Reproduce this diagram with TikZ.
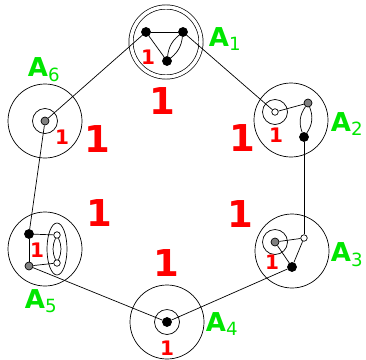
\documentclass[tikz,border=0pt]{standalone}
\usepackage{fontspec}
\setmainfont{DejaVu Sans}
\usepackage{tikz}
\definecolor{lblgreen}{RGB}{0,230,0}

\begin{document}
\begin{tikzpicture}[
    x=1pt, y=-1pt,
    line width=0.7pt,
    cluster/.style={circle, draw, minimum size=74pt, inner sep=0pt},
    shell/.style={circle, draw, minimum size=25pt, inner sep=0pt},
    bdot/.style={circle, draw, fill=black, minimum size=9pt, inner sep=0pt},
    gdot/.style={circle, draw, fill=gray, minimum size=8pt, inner sep=0pt},
    wdot/.style={circle, draw, fill=white, minimum size=6.5pt, inner sep=0pt},
    weight/.style={text=red, inner sep=0pt, font=\bfseries\fontsize{37}{37}\selectfont},
    mult/.style={text=red, inner sep=0pt, font=\bfseries\fontsize{20}{20}\selectfont},
    clname/.style={text=lblgreen, inner sep=0pt, font=\bfseries\fontsize{26}{26}\selectfont}
]
\useasboundingbox (0,0) rectangle (366,359);

% Cluster boundaries
\node[cluster, double, double distance=3.5pt, minimum size=70pt] (A1) at (166,42) {};
\node[cluster] (A2) at (291,120) {};
\node[cluster] (A3) at (292,251) {};
\node[cluster] (A4) at (167,322) {};
\node[cluster] (A5) at (45,249) {};
\node[cluster] (A6) at (45,121) {};

% A1: triangle with a double edge
\node[bdot] (a1l) at (146,32) {};
\node[bdot] (a1r) at (183,32) {};
\node[bdot] (a1b) at (167,61) {};
\draw (a1l) -- (a1r);
\draw (a1l) -- (a1b);
\draw (a1r) to[bend left=22] (a1b);
\draw (a1r) to[bend right=22] (a1b);

% A2
\node[shell] (a2s) at (275,112) {};
\node[wdot] (a2w) at (275,112) {};
\node[gdot] (a2g) at (308,103) {};
\node[bdot] (a2b) at (304,137) {};
\draw (a2w) -- (a2g);
\draw (a2g) to[bend left=28] (a2b);
\draw (a2g) to[bend right=28] (a2b);

% A3
\node[shell] (a3s) at (275,242) {};
\node[gdot] (a3g) at (275,242) {};
\node[wdot] (a3w) at (304,238) {};
\node[bdot] (a3b) at (292,267) {};
\draw (a3g) -- (a3w);
\draw (a3g) -- (a3b);
\draw (a3w) -- (a3b);

% A4
\node[shell] (a4s) at (167,322) {};
\node[bdot] (a4b) at (167,322) {};

% A5: square with a double edge, inside an ellipse
\draw (57,249) ellipse [x radius=10pt, y radius=26pt];
\node[bdot] (a5b) at (29,234) {};
\node[gdot] (a5g) at (29,266) {};
\node[wdot] (a5u) at (57,235) {};
\node[wdot] (a5d) at (57,263) {};
\draw (a5b) -- (a5u);
\draw (a5g) -- (a5d);
\draw (a5b) -- (a5g);
\draw (a5u) to[bend left=24] (a5d);
\draw (a5u) to[bend right=24] (a5d);

% A6
\node[shell] (a6s) at (45,121) {};
\node[gdot] (a6g) at (45,121) {};

% Links between clusters
\draw (a1l) -- (a6g);
\draw (a1r) -- (a2w);
\draw (a2b) -- (a3w);
\draw (a3b) -- (a4b);
\draw (a4b) -- (a5g);
\draw (a5b) -- (a6g);

% Multiplicities
\node[mult] (m1) at (148,57) {1};
\node[mult] (m2) at (276,135) {1};
\node[mult] (m3) at (272,262) {1};
\node[mult] (m4) at (167,348) {1};
\node[mult] (m5) at (37,250) {1};
\node[mult] (m6) at (62,137) {1};

% Edge weights
\node[weight] (w12) at (162,101) {1};
\node[weight] (w23) at (242,138) {1};
\node[weight] (w16) at (97,139) {1};
\node[weight] (w56) at (99,213) {1};
\node[weight] (w34) at (240,214) {1};
\node[weight] (w45) at (166,263) {1};

% Cluster names
\node[clname] (n1) at (225,39) {A\textsubscript{\mdseries 1}};
\node[clname] (n2) at (347,124) {A\textsubscript{\mdseries 2}};
\node[clname] (n3) at (347,255) {A\textsubscript{\mdseries 3}};
\node[clname] (n4) at (222,324) {A\textsubscript{\mdseries 4}};
\node[clname] (n5) at (41,301) {A\textsubscript{\mdseries 5}};
\node[clname] (n6) at (44,70) {A\textsubscript{\mdseries 6}};

\end{tikzpicture}
\end{document}
